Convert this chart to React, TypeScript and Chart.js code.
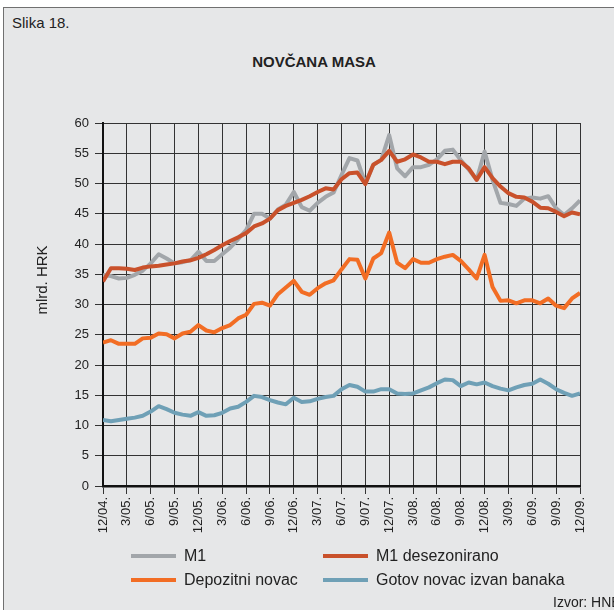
import React, { useEffect, useRef } from "react";
import { Chart, registerables } from "chart.js";

Chart.register(...registerables);

const tickLabels = [
  "12/04.", "3/05.", "6/05.", "9/05.", "12/05.", "3/06.", "6/06.", "9/06.", "12/06.", "3/07.", "6/07.",
  "9/07.", "12/07.", "3/08.", "6/08.", "9/08.", "12/08.", "3/09.", "6/09.", "9/09.", "12/09.",
];

// monthly values, 12/2004 .. 12/2009 (61 months), billion HRK
const m1 = [
  34.9, 34.7, 34.3, 34.4, 34.9, 35.6, 36.8, 38.3, 37.6, 36.8,
  37.0, 37.3, 38.7, 37.2, 37.2, 38.3, 39.4, 40.8, 42.3, 45.0,
  45.0, 44.2, 45.7, 46.5, 48.6, 46.1, 45.5, 46.8, 47.8, 48.5,
  51.4, 54.2, 53.8, 50.0, 53.1, 53.9, 58.0, 52.5, 51.2, 52.7,
  52.7, 53.1, 54.0, 55.4, 55.6, 53.9, 52.3, 50.6, 55.3, 50.6,
  46.8, 46.6, 46.3, 47.5, 47.7, 47.5, 47.9, 45.9, 44.8, 45.9,
  47.2,
];

const m1Sa = [
  33.8, 36.0, 36.0, 35.9, 35.7, 36.1, 36.3, 36.4, 36.6, 36.8,
  37.1, 37.3, 37.7, 38.3, 39.0, 39.8, 40.5, 41.1, 41.8, 42.9,
  43.4, 44.2, 45.6, 46.3, 46.8, 47.3, 47.9, 48.6, 49.2, 49.0,
  50.7, 51.7, 51.8, 49.9, 53.1, 53.9, 55.4, 53.6, 54.0, 54.8,
  54.3, 53.6, 53.6, 53.2, 53.6, 53.6, 52.5, 50.6, 52.7, 50.9,
  49.5, 48.4, 47.8, 47.7, 47.0, 46.0, 45.9, 45.3, 44.6, 45.2,
  44.9,
];

const deposits = [
  23.7, 24.1, 23.5, 23.5, 23.5, 24.4, 24.5, 25.2, 25.1, 24.4,
  25.2, 25.5, 26.6, 25.7, 25.4, 26.1, 26.6, 27.7, 28.3, 30.1,
  30.3, 29.8, 31.7, 32.8, 33.9, 32.1, 31.6, 32.7, 33.5, 34.0,
  35.8, 37.5, 37.4, 34.3, 37.6, 38.5, 41.9, 36.9, 36.0, 37.5,
  36.9, 36.9, 37.5, 37.9, 38.2, 37.2, 35.8, 34.3, 38.2, 32.9,
  30.6, 30.7, 30.2, 30.7, 30.7, 30.2, 31.0, 29.8, 29.4, 31.0,
  31.9,
];

const currency = [
  10.9, 10.7, 10.9, 11.1, 11.3, 11.6, 12.3, 13.2, 12.7, 12.1,
  11.8, 11.6, 12.2, 11.6, 11.7, 12.1, 12.8, 13.1, 13.9, 14.9,
  14.7, 14.2, 13.8, 13.5, 14.6, 13.9, 14.0, 14.4, 14.7, 14.9,
  16.0, 16.7, 16.4, 15.6, 15.6, 16.0, 16.0, 15.3, 15.2, 15.3,
  15.8, 16.3, 17.0, 17.6, 17.5, 16.5, 17.1, 16.8, 17.1, 16.5,
  16.1, 15.8, 16.3, 16.7, 16.9, 17.6, 16.9, 16.0, 15.4, 14.9,
  15.3,
];

const seriesNames = ["M1", "M1 desezonirano", "Depozitni novac", "Gotov novac izvan banaka"];
const seriesColors = ["#a2a6aa", "#c9512b", "#f26d24", "#6fa0b6"];

const FONT = "'Liberation Sans', Arial, sans-serif";
const TEXT = "#222";

const toPoints = (arr: number[]) => arr.map((v, i) => ({ x: i, y: v }));

export default function App() {
  const ref = useRef<HTMLCanvasElement | null>(null);

  useEffect(() => {
    if (!ref.current) return;
    const chart = new Chart(ref.current, {
      type: "line",
      data: {
        datasets: [
          { label: seriesNames[0], data: toPoints(m1), borderColor: seriesColors[0], order: 2 },
          { label: seriesNames[1], data: toPoints(m1Sa), borderColor: seriesColors[1], order: 1 },
          { label: seriesNames[2], data: toPoints(deposits), borderColor: seriesColors[2], order: 1 },
          { label: seriesNames[3], data: toPoints(currency), borderColor: seriesColors[3], order: 1 },
        ],
      },
      options: {
        responsive: false,
        animation: false,
        events: [],
        layout: { padding: { left: 0, right: 34, top: 123, bottom: 0 } },
        elements: {
          line: { borderWidth: 4, tension: 0, borderJoinStyle: "round", borderCapStyle: "butt", fill: false },
          point: { radius: 0 },
        },
        plugins: {
          legend: { display: false },
          tooltip: { enabled: false },
          title: { display: false },
        },
        scales: {
          x: {
            type: "linear",
            min: 0,
            max: 60,
            ticks: {
              stepSize: 3,
              autoSkip: false,
              minRotation: 90,
              maxRotation: 90,
              padding: 3,
              color: TEXT,
              font: { family: FONT, size: 13 },
              callback: (v: any) => tickLabels[Math.round(Number(v) / 3)] ?? "",
            },
            grid: { color: "#333", lineWidth: 1, tickLength: 8 },
            border: { color: "#111", width: 2.5 },
            afterFit: (s: any) => {
              s.height = 124;
            },
          },
          y: {
            min: 0,
            max: 60,
            ticks: {
              stepSize: 5,
              padding: 6,
              color: TEXT,
              font: { family: FONT, size: 13 },
            },
            grid: { color: "#333", lineWidth: 1, tickLength: 8 },
            border: { color: "#111", width: 2 },
            afterFit: (s: any) => {
              s.width = 103;
            },
          },
        },
      },
    } as any);
    return () => chart.destroy();
  }, []);

  const legendItems = [
    { i: 0, left: 131, top: 548 },
    { i: 1, left: 323, top: 548 },
    { i: 2, left: 131, top: 572 },
    { i: 3, left: 323, top: 572 },
  ];

  return (
    <div
      style={{
        position: "absolute",
        left: 0,
        top: 0,
        width: 614,
        height: 610,
        overflow: "hidden",
        background: "#fff",
        fontFamily: FONT,
        color: TEXT,
      }}
    >
      <div
        style={{
          position: "absolute",
          left: 3,
          top: 7,
          width: 640,
          height: 640,
          background: "#e6e7e8",
          borderLeft: "1px solid #707070",
          borderTop: "1px solid #707070",
        }}
      />
      <div style={{ position: "absolute", left: 12, top: 15, fontSize: 15, lineHeight: "15px" }}>Slika 18.</div>
      <div
        style={{
          position: "absolute",
          left: 164,
          width: 300,
          top: 54,
          fontSize: 15,
          lineHeight: "15px",
          fontWeight: "bold",
          textAlign: "center",
        }}
      >
        NOVČANA MASA
      </div>
      <canvas ref={ref} width={614} height={610} style={{ position: "absolute", left: 0, top: 0 }} />
      <div
        style={{
          position: "absolute",
          left: -18,
          top: 272,
          width: 120,
          height: 16,
          fontSize: 15,
          lineHeight: "16px",
          textAlign: "center",
          transform: "rotate(-90deg)",
          transformOrigin: "50% 50%",
          whiteSpace: "nowrap",
        }}
      >
        mlrd. HRK
      </div>
      {legendItems.map((it) => (
        <div key={it.i} style={{ position: "absolute", left: it.left, top: it.top, height: 16, whiteSpace: "nowrap" }}>
          <div
            style={{
              position: "absolute",
              left: 0,
              top: 6,
              width: 45,
              height: 4,
              background: seriesColors[it.i],
            }}
          />
          <div style={{ position: "absolute", left: 53, top: 0, fontSize: 16, lineHeight: "16px" }}>
            {seriesNames[it.i]}
          </div>
        </div>
      ))}
      <div style={{ position: "absolute", left: 553, top: 595, fontSize: 14, lineHeight: "14px", whiteSpace: "nowrap" }}>
        Izvor: HNB
      </div>
    </div>
  );
}
